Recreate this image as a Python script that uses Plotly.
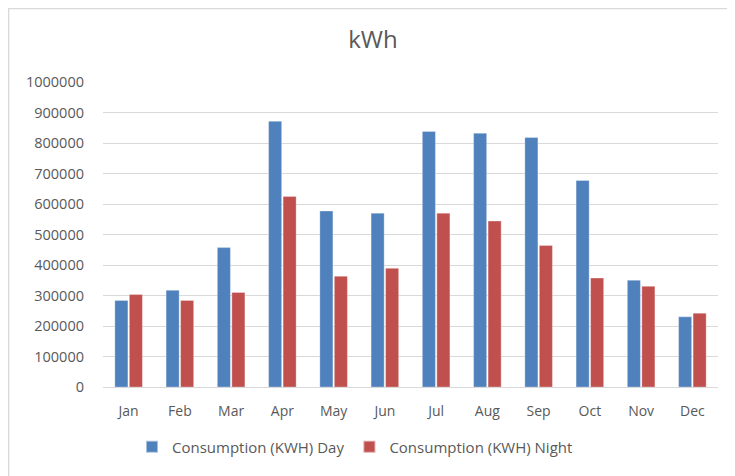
import plotly.graph_objects as go

months = ["Jan", "Feb", "Mar", "Apr", "May", "Jun", "Jul", "Aug", "Sep", "Oct", "Nov", "Dec"]
day = [284000, 317000, 457000, 871000, 577000, 570000, 838000, 832000, 818000, 677000, 350000, 230000]
night = [303000, 284000, 310000, 625000, 363000, 389000, 570000, 544000, 464000, 357000, 330000, 242000]
y_ticks = list(range(0, 1000001, 100000))

# page body has an 8px margin, so the figure origin sits at (8, 8) on the page
OFF = 8
W, H = 735 - OFF, 476 - OFF
PL, PR, PT, PB = 103, 718, 82, 387          # plot area in page pixels
L, R, T, B = PL - OFF, W - (PR - OFF), PT - OFF, H - (PB - OFF)
pw, ph = W - L - R, H - T - B

def px(x):  # page x -> paper x
    return (x - OFF - L) / pw

def py(y):  # page y -> paper y
    return (PB - y) / ph

FONT = "Open Sans"
GRAY = "#595959"

fig = go.Figure()
fig.add_trace(go.Bar(name="Consumption (KWH) Day", x=months, y=day,
                     marker=dict(color="#4F81BD", line=dict(color="rgba(255,255,255,0.5)", width=0.6))))
fig.add_trace(go.Bar(name="Consumption (KWH) Night", x=months, y=night,
                     marker=dict(color="#C0504D", line=dict(color="rgba(255,255,255,0.5)", width=0.6))))

fig.update_layout(
    width=W, height=H,
    margin=dict(l=L, r=R, t=T, b=B, autoexpand=False),
    paper_bgcolor="white", plot_bgcolor="white",
    barmode="group", bargap=0.434, bargroupgap=0.1,
    title=dict(text="kWh", x=(373 - OFF) / W, xanchor="center", y=1 - (40 - OFF) / H, yanchor="middle",
               xref="container", yref="container",
               font=dict(family=FONT, size=24, color=GRAY)),
    font=dict(family=FONT, size=14, color=GRAY),
    showlegend=True,
    legend=dict(orientation="h", x=px(132), xanchor="left", y=py(447), yanchor="middle",
                font=dict(family=FONT, size=15, color=GRAY), itemwidth=30,
                traceorder="normal", itemsizing="constant"),
    xaxis=dict(showgrid=False, showline=False, ticks="", ticklabelstandoff=14,
               tickfont=dict(size=14, color=GRAY)),
    yaxis=dict(range=[0, 1000000], tickvals=y_ticks, ticktext=[str(v) for v in y_ticks],
               showgrid=True, gridcolor="#D9D9D9", gridwidth=1.3,
               zeroline=True, zerolinecolor="#D9D9D9", zerolinewidth=1.3,
               showline=False, ticks="", ticklabelstandoff=18,
               tickfont=dict(size=14.5, color=GRAY)),
    shapes=[dict(type="rect", xref="paper", yref="paper",
                 x0=px(8.7), x1=px(760), y0=py(500), y1=py(8.7),
                 line=dict(color="#D9D9D9", width=1.3), fillcolor="rgba(0,0,0,0)", layer="below")],
)

fig.write_html("out.html")
